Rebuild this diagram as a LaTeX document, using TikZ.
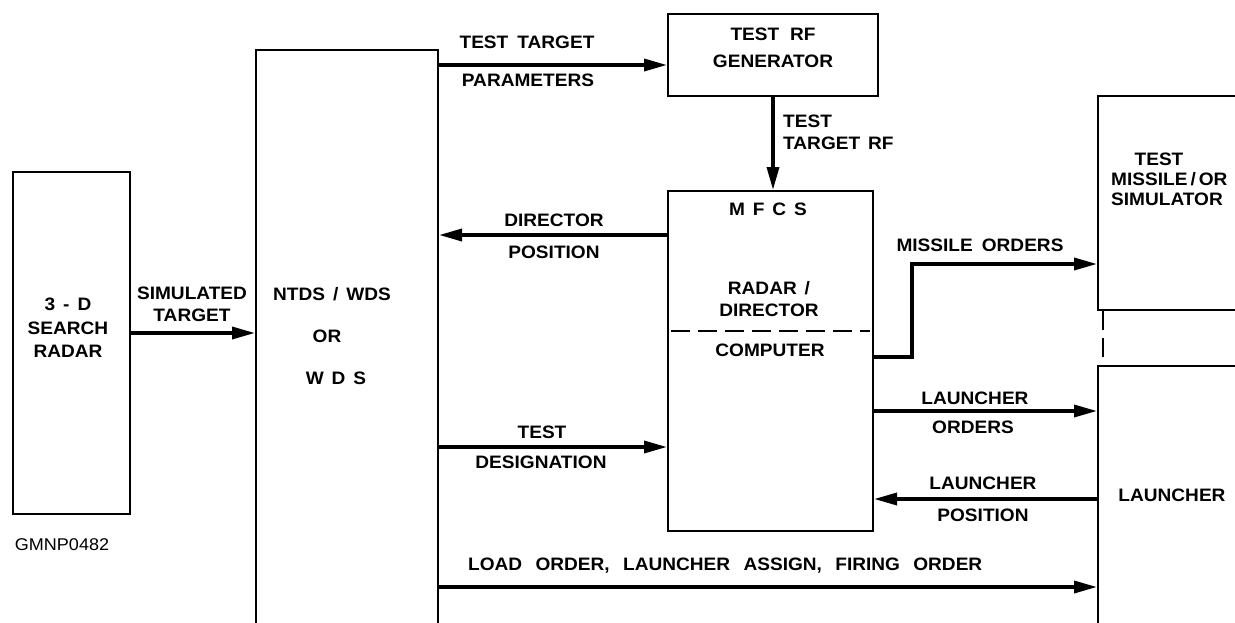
\documentclass[tikz,border=0pt]{standalone}
\usepackage{fontspec}
\setmainfont{Liberation Sans}[FakeStretch=1.06, WordSpace=1.5]
\usepackage{tikz}
\usetikzlibrary{arrows.meta, calc, positioning}

\begin{document}
\begin{tikzpicture}[
    x=1pt, y=-1pt,
    box/.style={rectangle, draw, line width=2pt, inner sep=0pt, anchor=north west},
    lbl/.style={inner sep=0pt, align=center, font=\fontsize{18}{22}\selectfont\bfseries},
    arrow/.style={line width=3.5pt, -{Triangle[length=23pt, width=12pt]}},
    dashline/.style={line width=2.5pt, dash pattern=on 19pt off 8pt}
]
    \useasboundingbox (0,0) rectangle (1235,622);
    \clip (0,0) rectangle (1235,622);

    % blocks
    \node[box, minimum width=117, minimum height=342] (radar) at (12,171) {};
    \node[box, minimum width=182, minimum height=640] (ntds) at (255,49) {};
    \node[box, minimum width=210, minimum height=82] (rfgen) at (667,13) {};
    \node[box, minimum width=205, minimum height=340] (mfcs) at (667,190) {};
    \node[box, minimum width=220, minimum height=214] (missile) at (1097,95) {};
    \node[box, minimum width=220, minimum height=320] (launcher) at (1097,365) {};

    % block texts
    \node[lbl, font=\fontsize{18}{23.5}\selectfont\bfseries] (radartxt) at (68,328) {3 - D\\SEARCH\\RADAR};
    \node[lbl, font=\fontsize{17}{20}\selectfont] (figno) at (62,545) {GMNP0482};
    \node[lbl] (ntds1) at (332,294) {NTDS / WDS};
    \node[lbl] (ntds2) at (327,336) {OR};
    \node[lbl] (ntds3) at (336,378) {W D S};
    \node[lbl, font=\fontsize{18}{27}\selectfont\bfseries] (rftxt) at (773,48) {TEST\hspace{0.6em}RF\\GENERATOR};
    \node[lbl] (mfcs1) at (768,209) {M F C S};
    \node[lbl] (mfcs2) at (769,299) {RADAR /\\DIRECTOR};
    \node[lbl] (mfcs3) at (770,350) {COMPUTER};
    \node[lbl] (miss1) at (1159,159) {TEST};
    \node[lbl, align=left, anchor=west, font=\fontsize{18}{20}\selectfont\bfseries] (miss2) at (1111,189) {MISSILE\,/\,OR\\SIMULATOR};
    \node[lbl] (launchtxt) at (1172,495) {LAUNCHER};

    % connector labels
    \node[lbl] (simlbl) at (192,304) {SIMULATED\\TARGET};
    \node[lbl] (ttp1) at (527,42) {TEST\hspace{0.5em}TARGET};
    \node[lbl] (ttp2) at (528,80) {PARAMETERS};
    \node[lbl, align=left, anchor=west] (ttrf) at (783,132) {TEST\\TARGET RF};
    \node[lbl] (dp1) at (554,220) {DIRECTOR};
    \node[lbl] (dp2) at (554,252) {POSITION};
    \node[lbl] (mo) at (980,245) {MISSILE\hspace{0.5em}ORDERS};
    \node[lbl] (td1) at (542,432) {TEST};
    \node[lbl] (td2) at (541,462) {DESIGNATION};
    \node[lbl] (lo1) at (975,398) {LAUNCHER};
    \node[lbl] (lo2) at (973,427) {ORDERS};
    \node[lbl] (lp1) at (983,483) {LAUNCHER};
    \node[lbl] (lp2) at (983,515) {POSITION};
    \node[lbl, anchor=west] (load) at (468,566) {LOAD\hspace{0.3em} ORDER,\hspace{0.3em} LAUNCHER\hspace{0.3em} ASSIGN,\hspace{0.3em} FIRING\hspace{0.3em} ORDER};

    % connectors
    \coordinate (bend) at (912,264);
    \draw[arrow] (radar.east |- 0,333) -- (ntds.west |- 0,333);
    \draw[arrow] (ntds.east |- 0,65) -- (rfgen.west |- 0,65);
    \draw[arrow] (rfgen.south) -- (rfgen.south |- mfcs.north);
    \draw[arrow] (mfcs.west |- 0,235) -- (ntds.east |- 0,235);
    \draw[arrow] (ntds.east |- 0,447) -- (mfcs.west |- 0,447);
    \draw[arrow] (mfcs.east |- 0,357) -| (bend) -- (missile.west |- bend);
    \draw[arrow] (mfcs.east |- 0,411) -- (launcher.west |- 0,411);
    \draw[arrow] (launcher.west |- 0,499) -- (mfcs.east |- 0,499);
    \draw[arrow] (ntds.east |- 0,587) -- (launcher.west |- 0,587);

    % dashed splits
    \draw[dashline] ([xshift=4pt]mfcs.west |- 0,331) -- ([xshift=-4pt]mfcs.east |- 0,331);
    \draw[dashline] ([xshift=6pt]missile.south west) -- ([xshift=6pt]launcher.north west);
\end{tikzpicture}
\end{document}
